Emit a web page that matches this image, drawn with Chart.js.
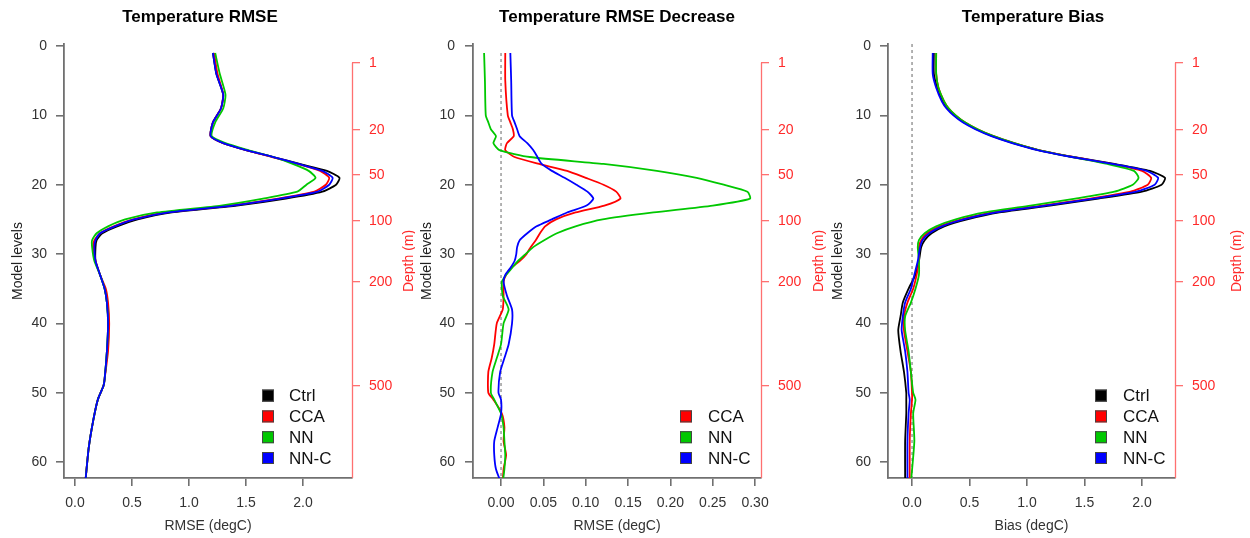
<!DOCTYPE html>
<html>
<head>
<meta charset="utf-8">
<script src="https://cdn.jsdelivr.net/npm/chart.js@4.4.0/dist/chart.umd.min.js"></script>
<style>
  html, body { margin: 0; padding: 0; background: #fff; }
  #wrap { position: relative; width: 1250px; height: 538px; overflow: hidden; }
  .panel { position: absolute; top: 0; height: 538px; }
</style>
</head>
<body>
<div id="wrap">
  <div class="panel" style="left:0;width:415px"><canvas id="rmseChart" width="415" height="538"></canvas></div>
  <div class="panel" style="left:415px;width:413px"><canvas id="decChart" width="413" height="538"></canvas></div>
  <div class="panel" style="left:828px;width:422px"><canvas id="biasChart" width="422" height="538"></canvas></div>
</div>
<script>
// ---- data ----
const levelTicks = [0, 10, 20, 30, 40, 50, 60];
const depthLabels = [1, 20, 50, 100, 200, 500];
const depthLevels = [2.41, 12.1, 18.6, 25.2, 34.0, 49.0];   // model level where each depth sits

const rmseTicks = [0, 0.5, 1.0, 1.5, 2.0];
const decTicks = [0, 0.05, 0.10, 0.15, 0.20, 0.25, 0.30];
const biasTicks = [0, 0.5, 1.0, 1.5, 2.0];

// Temperature RMSE
const rmseLevels = [1, 4, 7, 9, 11, 13, 14, 15, 16, 17, 18, 19, 20, 21, 22, 23, 24, 25, 26, 27, 28, 29, 31, 33, 35, 37, 40, 44, 48, 49, 51, 54, 58, 63];
const rmseCtrl = [1.21, 1.24, 1.30, 1.28, 1.21, 1.19, 1.30, 1.50, 1.74, 1.97, 2.21, 2.32, 2.29, 2.17, 1.85, 1.42, 0.85, 0.55, 0.37, 0.24, 0.19, 0.18, 0.18, 0.22, 0.26, 0.28, 0.29, 0.28, 0.26, 0.25, 0.20, 0.16, 0.12, 0.09];
const rmseCCA  = [1.22, 1.25, 1.30, 1.28, 1.21, 1.19, 1.30, 1.50, 1.73, 1.95, 2.15, 2.23, 2.20, 2.10, 1.78, 1.36, 0.80, 0.51, 0.34, 0.22, 0.17, 0.16, 0.18, 0.22, 0.27, 0.29, 0.30, 0.29, 0.26, 0.25, 0.20, 0.16, 0.12, 0.09];
const rmseNN   = [1.23, 1.27, 1.32, 1.30, 1.23, 1.20, 1.32, 1.52, 1.74, 1.91, 2.05, 2.11, 2.03, 1.95, 1.65, 1.28, 0.72, 0.44, 0.29, 0.19, 0.15, 0.15, 0.17, 0.22, 0.26, 0.28, 0.29, 0.28, 0.26, 0.25, 0.20, 0.16, 0.12, 0.09];
const rmseNNC  = [1.21, 1.24, 1.30, 1.28, 1.21, 1.19, 1.30, 1.50, 1.74, 1.96, 2.17, 2.26, 2.23, 2.13, 1.80, 1.38, 0.82, 0.52, 0.35, 0.22, 0.18, 0.17, 0.18, 0.22, 0.26, 0.28, 0.29, 0.28, 0.26, 0.25, 0.20, 0.16, 0.12, 0.09];

// Temperature RMSE decrease
const decLevels = [1, 5, 10, 11, 12, 13, 14, 15, 16, 17, 18, 19, 20, 21, 22, 23, 24, 25, 26, 27, 28, 29, 30, 31, 32, 33, 34, 36, 38, 40, 43, 45, 47, 50, 51, 53, 55, 57, 59, 61, 63];
const decCCA = [0.005, 0.005, 0.008, 0.011, 0.014, 0.015, 0.007, 0.005, 0.016, 0.045, 0.078, 0.100, 0.121, 0.136, 0.141, 0.122, 0.088, 0.065, 0.052, 0.046, 0.041, 0.035, 0.030, 0.022, 0.012, 0.006, 0.003, 0.003, 0.002, -0.005, -0.008, -0.011, -0.015, -0.015, -0.009, 0.001, 0.004, 0.003, 0.006, 0.003, 0.002];
const decNN  = [-0.020, -0.019, -0.018, -0.015, -0.012, -0.006, -0.009, -0.002, 0.034, 0.121, 0.184, 0.231, 0.263, 0.291, 0.294, 0.250, 0.180, 0.120, 0.088, 0.066, 0.051, 0.038, 0.029, 0.020, 0.013, 0.006, 0.001, 0.002, 0.009, 0.003, 0.000, -0.005, -0.010, -0.012, -0.008, 0.000, 0.003, 0.004, 0.005, 0.004, 0.002];
const decNNC = [0.011, 0.012, 0.013, 0.016, 0.019, 0.022, 0.031, 0.038, 0.043, 0.048, 0.060, 0.075, 0.089, 0.102, 0.109, 0.101, 0.078, 0.060, 0.042, 0.031, 0.022, 0.019, 0.018, 0.016, 0.011, 0.005, 0.003, 0.007, 0.013, 0.013, 0.009, 0.004, -0.001, -0.003, 0.000, 0.000, -0.004, -0.008, -0.008, -0.006, 0.000];

// Temperature bias
const biasLevels = [1, 4, 6, 8, 9, 10, 11, 12, 13, 14, 15, 16, 17, 18, 19, 20, 21, 22, 23, 24, 25, 26, 27, 28, 29, 31, 33, 35, 37, 39, 41, 44, 47, 50, 51, 53, 57, 63];
const biasCtrl = [0.19, 0.19, 0.22, 0.27, 0.31, 0.37, 0.45, 0.56, 0.70, 0.88, 1.10, 1.40, 1.76, 2.07, 2.20, 2.17, 2.00, 1.62, 1.20, 0.76, 0.48, 0.28, 0.17, 0.11, 0.08, 0.06, 0.03, -0.03, -0.08, -0.10, -0.12, -0.10, -0.07, -0.05, -0.05, -0.05, -0.06, -0.06];
const biasCCA  = [0.21, 0.21, 0.23, 0.28, 0.32, 0.38, 0.46, 0.57, 0.71, 0.89, 1.10, 1.40, 1.73, 2.00, 2.08, 2.05, 1.90, 1.55, 1.13, 0.70, 0.43, 0.24, 0.13, 0.08, 0.06, 0.06, 0.04, 0.01, -0.04, -0.07, -0.07, -0.04, -0.01, 0.00, 0.00, -0.01, -0.02, -0.02];
const biasNN   = [0.21, 0.21, 0.23, 0.28, 0.32, 0.38, 0.46, 0.57, 0.71, 0.89, 1.10, 1.39, 1.70, 1.93, 1.97, 1.92, 1.76, 1.42, 1.03, 0.63, 0.38, 0.21, 0.11, 0.06, 0.05, 0.06, 0.06, 0.03, -0.01, -0.06, -0.06, -0.03, -0.01, 0.01, 0.03, 0.01, 0.02, -0.01];
const biasNNC  = [0.18, 0.18, 0.21, 0.26, 0.30, 0.36, 0.44, 0.55, 0.69, 0.87, 1.09, 1.39, 1.74, 2.04, 2.14, 2.11, 1.95, 1.58, 1.16, 0.73, 0.45, 0.26, 0.15, 0.09, 0.07, 0.05, 0.02, -0.01, -0.06, -0.08, -0.09, -0.06, -0.04, -0.03, -0.02, -0.03, -0.04, -0.04];

// ---- styling ----
const FONT = '"Liberation Sans", Arial, Helvetica, sans-serif';
Chart.defaults.font.family = FONT;
Chart.defaults.font.size = 14;

const COLORS = { Ctrl: '#000000', CCA: '#ff0000', NN: '#00c800', 'NN-C': '#0000ff' };
const ORDER = { Ctrl: 4, CCA: 3, NN: 2, 'NN-C': 1 };
const Y_MIN = -0.3, Y_MAX = 62.3;

function toPoints(levels, values) {
    return levels.map((lev, i) => ({ x: values[i], y: lev }));
}

function seriesDataset(label, levels, values) {
    return {
        label: label,
        data: toPoints(levels, values),
        borderColor: COLORS[label],
        backgroundColor: COLORS[label],
        borderWidth: 1.8,
        pointRadius: 0,
        tension: 0.2,
        fill: false,
        order: ORDER[label]
    };
}

function zeroLine(fromLevel) {
    return {
        label: '',
        data: [{ x: 0, y: fromLevel }, { x: 0, y: 63 }],
        borderColor: '#8a8a8a',
        borderWidth: 1.3,
        borderDash: [3, 3],
        pointRadius: 0,
        fill: false,
        order: 10
    };
}

// draws panel title, the red depth axis line + its label, and the legend
const panelDeco = {
    id: 'panelDeco',
    afterDraw(chart, args, o) {
        const ctx = chart.ctx;
        const area = chart.chartArea;
        const y2 = chart.scales.y2;
        ctx.save();

        ctx.font = 'bold 17px ' + FONT;
        ctx.fillStyle = '#000';
        ctx.textAlign = 'center';
        ctx.textBaseline = 'alphabetic';
        ctx.fillText(o.title, o.titleX, 22);

        const topPix = y2.getPixelForValue(depthLevels[0]);
        ctx.strokeStyle = '#ff7070';
        ctx.lineWidth = 1.3;
        ctx.beginPath();
        ctx.moveTo(area.right + 0.5, topPix);
        ctx.lineTo(area.right + 0.5, area.bottom);
        ctx.stroke();

        ctx.save();
        ctx.translate(o.depthX, (area.top + area.bottom) / 2);
        ctx.rotate(-Math.PI / 2);
        ctx.font = '14px ' + FONT;
        ctx.fillStyle = '#ff2a2a';
        ctx.textBaseline = 'middle';
        ctx.fillText('Depth (m)', 0, 0);
        ctx.restore();

        const items = chart.data.datasets.filter(d => d.label);
        const n = items.length;
        ctx.font = '17px ' + FONT;
        ctx.textAlign = 'left';
        ctx.textBaseline = 'middle';
        items.forEach((d, i) => {
            const cy = area.bottom - 20 - (n - 1 - i) * 20.8;
            const sx = area.right - o.legendSq;
            ctx.fillStyle = d.borderColor;
            ctx.fillRect(sx, cy - 6, 12, 12);
            ctx.strokeStyle = '#444';
            ctx.lineWidth = 1;
            ctx.strokeRect(sx + 0.5, cy - 5.5, 11, 11);
            ctx.fillStyle = '#111';
            ctx.fillText(d.label, area.right - o.legendTx, cy + 1);
        });
        ctx.restore();
    }
};

function createPanel(canvasId, p) {
    const ctx = document.getElementById(canvasId).getContext('2d');
    return new Chart(ctx, {
        type: 'line',
        data: { datasets: p.datasets },
        plugins: [panelDeco],
        options: {
            responsive: false,
            animation: false,
            events: [],
            layout: { padding: { top: 44, left: 0, right: 0, bottom: 0 } },
            scales: {
                x: {
                    type: 'linear',
                    min: p.xMin,
                    max: p.xMax,
                    afterBuildTicks: s => { s.ticks = p.xTicks.map(v => ({ value: v })); },
                    afterFit: s => { s.height = 60; },
                    ticks: {
                        callback: v => v.toFixed(p.decimals),
                        color: '#333', padding: 9, autoSkip: false, maxRotation: 0
                    },
                    grid: { drawOnChartArea: false, drawTicks: true, tickLength: 8, color: '#707070', lineWidth: 1.6 },
                    border: { display: true, color: '#707070', width: 1.8 },
                    title: { display: true, text: p.xTitle, color: '#333', padding: { top: 0, bottom: 3 } }
                },
                y: {
                    type: 'linear',
                    position: 'left',
                    reverse: true,
                    min: Y_MIN,
                    max: Y_MAX,
                    afterBuildTicks: s => { s.ticks = levelTicks.map(v => ({ value: v })); },
                    afterFit: s => { s.width = p.leftW; },
                    ticks: { color: '#333', padding: p.yPad, autoSkip: false },
                    grid: { drawOnChartArea: false, drawTicks: true, tickLength: 8, color: '#707070', lineWidth: 1.6 },
                    border: { display: true, color: '#707070', width: 1.8 },
                    title: { display: true, text: 'Model levels', color: '#222', padding: { top: p.yTitlePad, bottom: 0 } }
                },
                y2: {
                    type: 'linear',
                    position: 'right',
                    reverse: true,
                    min: Y_MIN,
                    max: Y_MAX,
                    afterBuildTicks: s => { s.ticks = depthLevels.map(v => ({ value: v })); },
                    afterFit: s => { s.width = p.rightW; },
                    ticks: {
                        callback: (v, i) => String(depthLabels[i]),
                        color: '#ff2a2a', padding: 9, autoSkip: false
                    },
                    grid: { drawOnChartArea: false, drawTicks: true, tickLength: 8, color: '#ff7070', lineWidth: 1.3 },
                    border: { display: false }
                }
            },
            plugins: {
                legend: { display: false },
                title: { display: false },
                tooltip: { enabled: false },
                panelDeco: p.deco
            }
        }
    });
}

createPanel('rmseChart', {
    datasets: [
        seriesDataset('Ctrl', rmseLevels, rmseCtrl),
        seriesDataset('CCA', rmseLevels, rmseCCA),
        seriesDataset('NN', rmseLevels, rmseNN),
        seriesDataset('NN-C', rmseLevels, rmseNNC)
    ],
    xMin: -0.0965, xMax: 2.43, xTicks: rmseTicks, decimals: 1, xTitle: 'RMSE (degC)',
    leftW: 64, rightW: 63, yPad: 9, yTitlePad: 9.5,
    deco: { title: 'Temperature RMSE', titleX: 200, depthX: 409, legendSq: 90, legendTx: 63 }
});

createPanel('decChart', {
    datasets: [
        zeroLine(1),
        seriesDataset('CCA', decLevels, decCCA),
        seriesDataset('NN', decLevels, decNN),
        seriesDataset('NN-C', decLevels, decNNC)
    ],
    xMin: -0.0331, xMax: 0.307, xTicks: decTicks, decimals: 2, xTitle: 'RMSE (degC)',
    leftW: 58, rightW: 67, yPad: 10, yTitlePad: 3.5,
    deco: { title: 'Temperature RMSE Decrease', titleX: 202, depthX: 404, legendSq: 81, legendTx: 53 }
});

createPanel('biasChart', {
    datasets: [
        zeroLine(Y_MIN),
        seriesDataset('Ctrl', biasLevels, biasCtrl),
        seriesDataset('CCA', biasLevels, biasCCA),
        seriesDataset('NN', biasLevels, biasNN),
        seriesDataset('NN-C', biasLevels, biasNNC)
    ],
    xMin: -0.209, xMax: 2.287, xTicks: biasTicks, decimals: 1, xTitle: 'Bias (degC)',
    leftW: 60, rightW: 75, yPad: 9, yTitlePad: 1.5,
    deco: { title: 'Temperature Bias', titleX: 205, depthX: 409, legendSq: 80, legendTx: 52 }
});
</script>
</body>
</html>
